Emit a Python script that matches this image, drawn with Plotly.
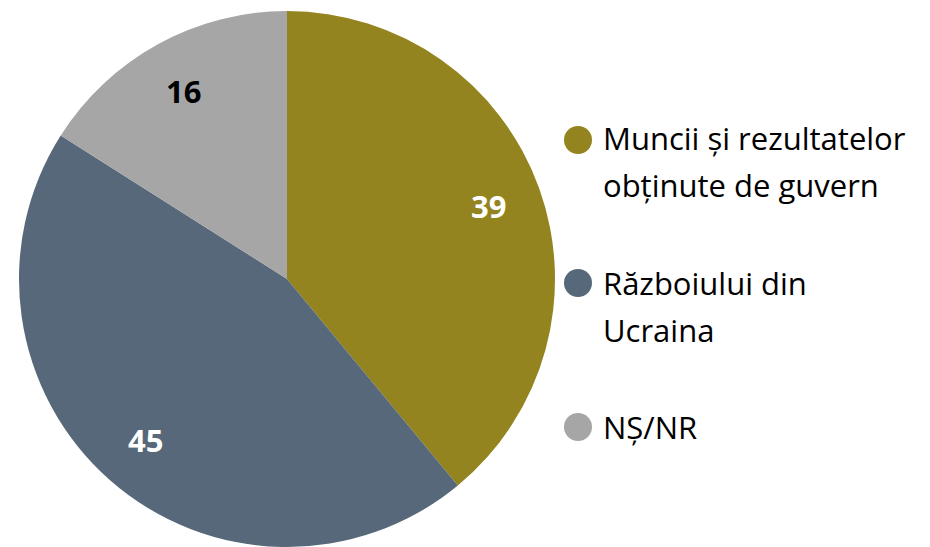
import math
import plotly.graph_objects as go

labels = ["Muncii și rezultatelor obținute de guvern", "Războiului din Ucraina", "NȘ/NR"]
legend_lines = [["Muncii și rezultatelor", "obținute de guvern"], ["Războiului din", "Ucraina"], ["NȘ/NR"]]
values = [39, 45, 16]
colors = ["#93841F", "#566879", "#A6A6A6"]
text_colors = ["white", "white", "black"]

W, H = 930, 547
FONT = "Open Sans"
TOP = 11
PH = H - TOP
R = PH / 2
CX, CY = 287, TOP + R


def py2paper(py):
    return 1 - (py - TOP) / PH


fig = go.Figure()
fig.add_trace(go.Pie(
    labels=labels, values=values, sort=False, direction="clockwise", rotation=0,
    marker=dict(colors=colors, line=dict(width=0)),
    textinfo="none",
    showlegend=False, hoverinfo="skip",
    domain=dict(x=[(CX - R) / W, (CX + R) / W], y=[0, 1]),
))

annotations = []
# data labels placed at 0.8 of the radius, at each slice's mid-angle
total = sum(values)
cum = 0
for v, tc in zip(values, text_colors):
    mid = (cum + v / 2) / total * 2 * math.pi
    cum += v
    px = CX + 0.8 * R * math.sin(mid)
    py = CY - 0.8 * R * math.cos(mid)
    annotations.append(dict(text=str(v), xref="paper", yref="paper", x=px / W, y=py2paper(py),
                            xanchor="center", yanchor="middle", showarrow=False,
                            font=dict(family=FONT, size=31, color=tc, weight="bold")))

shapes = []
circle_y = [140, 283, 427]
text_y = [[138, 185], [283, 330], [427]]
for i, lines in enumerate(legend_lines):
    cy = circle_y[i]
    shapes.append(dict(type="circle", xref="paper", yref="paper",
                       x0=(578 - 14) / W, x1=(578 + 14) / W,
                       y0=py2paper(cy + 14), y1=py2paper(cy - 14),
                       fillcolor=colors[i], line=dict(width=0)))
    for j, ln in enumerate(lines):
        ty = text_y[i][j]
        annotations.append(dict(text=ln, xref="paper", yref="paper", x=601 / W, y=py2paper(ty),
                                xanchor="left", yanchor="middle", showarrow=False,
                                font=dict(family=FONT, size=31, color="black")))

fig.update_layout(
    width=W, height=H, margin=dict(l=0, r=0, t=TOP, b=0),
    paper_bgcolor="white", plot_bgcolor="white",
    shapes=shapes, annotations=annotations,
)
fig.write_html("out.html", config={"displayModeBar": False},
               post_script="document.body.style.margin='0px';document.body.style.padding='0px';")
